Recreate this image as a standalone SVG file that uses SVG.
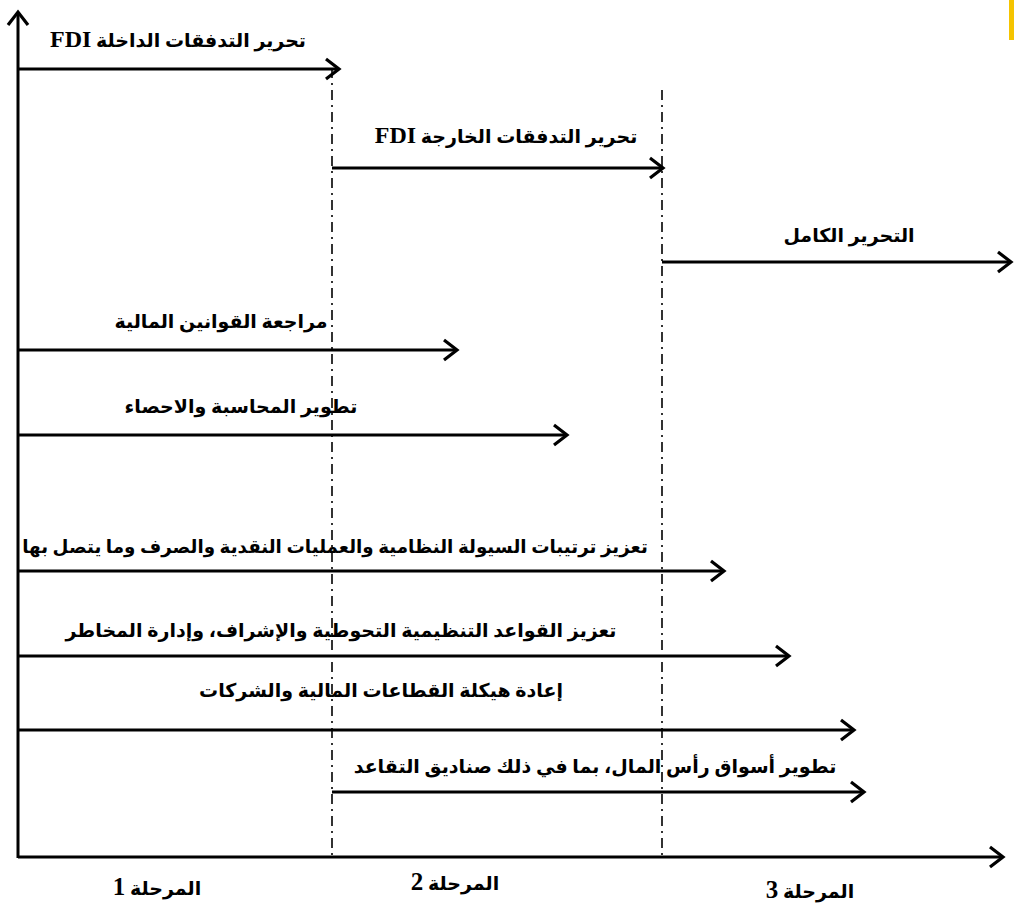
<svg xmlns="http://www.w3.org/2000/svg" width="1014" height="912" viewBox="0 0 1014 912">
<style>
.ax{stroke:#000;stroke-width:3;fill:none}
.ln{stroke:#000;stroke-width:3;fill:none}
.dd{stroke:#000;stroke-width:1.6;fill:none;stroke-dasharray:10,5,2,5}
.t{font-family:'Liberation Serif','DejaVu Sans',serif;font-weight:bold;font-size:19px;fill:#000;text-anchor:middle;direction:rtl}
.big{font-family:'Liberation Serif',serif;font-size:24px}
.num{font-family:'Liberation Serif',serif;font-size:25px}
</style>
<defs>
<marker id="ah" markerWidth="20" markerHeight="24" refX="15" refY="12" orient="auto" markerUnits="userSpaceOnUse" viewBox="0 0 20 24">
<path d="M2,2 L15,12 L2,22" fill="none" stroke="#000" stroke-width="3.2"/>
</marker>
</defs>
<rect x="1009" y="0" width="5" height="40" fill="#f5c400"/>
<g id="axes">
<line class="ax" x1="18" y1="858" x2="18" y2="12" marker-end="url(#ah)"/>
<line class="ax" x1="18" y1="857" x2="1003" y2="857" marker-end="url(#ah)"/>
</g>
<g id="phase-dividers">
<line class="dd" x1="332" y1="68" x2="332" y2="856"/>
<line class="dd" x1="662" y1="90" x2="662" y2="856"/>
</g>
<g id="connectors">
<line class="ln" x1="18" y1="69" x2="339" y2="69" marker-end="url(#ah)"/>
<line class="ln" x1="332" y1="168" x2="663" y2="168" marker-end="url(#ah)"/>
<line class="ln" x1="662" y1="262" x2="1011" y2="262" marker-end="url(#ah)"/>
<line class="ln" x1="18" y1="350" x2="457" y2="350" marker-end="url(#ah)"/>
<line class="ln" x1="18" y1="435" x2="567" y2="435" marker-end="url(#ah)"/>
<line class="ln" x1="18" y1="571" x2="724" y2="571" marker-end="url(#ah)"/>
<line class="ln" x1="18" y1="656" x2="789" y2="656" marker-end="url(#ah)"/>
<line class="ln" x1="18" y1="730" x2="854" y2="730" marker-end="url(#ah)"/>
<line class="ln" x1="332" y1="792" x2="864" y2="792" marker-end="url(#ah)"/>
</g>
<g id="n1"><text class="t" x="178" y="47">تحرير التدفقات الداخلة <tspan class="big">FDI</tspan></text></g>
<g id="n2"><text class="t" x="506" y="143">تحرير التدفقات الخارجة <tspan class="big">FDI</tspan></text></g>
<g id="n3"><text class="t" x="849" y="242">التحرير الكامل</text></g>
<g id="n4"><text class="t" x="221" y="328">مراجعة القوانين المالية</text></g>
<g id="n5"><text class="t" x="241" y="413">تطوير المحاسبة والاحصاء</text></g>
<g id="n6"><text class="t" x="335" y="553" style="font-size:18.3px">تعزيز ترتيبات السيولة النظامية والعمليات النقدية والصرف وما يتصل بها</text></g>
<g id="n7"><text class="t" x="341" y="637">تعزيز القواعد التنظيمية التحوطية والإشراف، وإدارة المخاطر</text></g>
<g id="n8"><text class="t" x="381" y="697">إعادة هيكلة القطاعات المالية والشركات</text></g>
<g id="n9"><text class="t" x="595" y="773">تطوير أسواق رأس المال، بما في ذلك صناديق التقاعد</text></g>
<g id="p1"><text class="t" x="157" y="895">المرحلة <tspan class="num">1</tspan></text></g>
<g id="p2"><text class="t" x="455" y="890">المرحلة <tspan class="num">2</tspan></text></g>
<g id="p3"><text class="t" x="810" y="898">المرحلة <tspan class="num">3</tspan></text></g>
</svg>
